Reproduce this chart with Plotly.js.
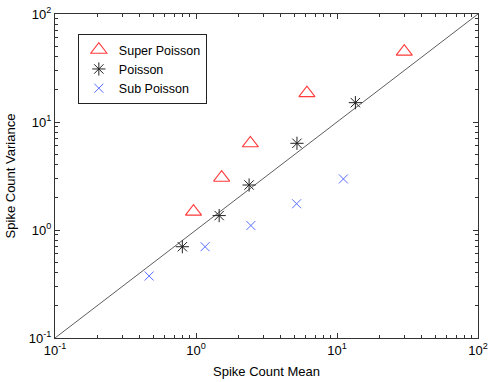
<!DOCTYPE html>
<html>
<head>
<meta charset="utf-8">
<script src="https://cdn.plot.ly/plotly-3.0.1.min.js"></script>
<style>
  html, body { margin: 0; padding: 0; background: #fff; }
  #chart { width: 491px; height: 382px; }
</style>
</head>
<body>
<div id="chart"></div>
<script>
// values (mean vs variance of spike counts)
var superMean = [0.96, 1.52, 2.43, 6.12, 30];
var superVar  = [1.48, 3.05, 6.35, 18.5, 44.8];
var poisMean  = [0.80, 1.46, 2.38, 5.2, 13.5];
var poisVar   = [0.70, 1.36, 2.61, 6.35, 15.1];
var subMean   = [0.465, 1.16, 2.45, 5.17, 11.1];
var subVar    = [0.375, 0.70, 1.10, 1.75, 2.97];
var unityLine = [0.1, 100];   // variance = mean
var majorTicks = [0.1, 1, 10, 100];
var majorText  = ['10<sup>-1</sup>', '10<sup>0</sup>', '10<sup>1</sup>', '10<sup>2</sup>'];

var minorTicks = [];
for (var d = 0; d < 3; d++) {
  for (var k = 2; k <= 9; k++) minorTicks.push(k * Math.pow(10, d - 1));
}

var data = [
  {
    x: unityLine, y: unityLine, mode: 'lines', type: 'scatter',
    line: {color: '#333', width: 0.8}, showlegend: false, hoverinfo: 'skip'
  },
  {
    x: superMean, y: superVar, mode: 'markers', type: 'scatter', name: 'Super Poisson',
    marker: {symbol: 'triangle-up-open', size: 14, color: '#ff3b3b', line: {width: 1.1}}
  },
  {
    x: poisMean, y: poisVar, mode: 'markers', type: 'scatter', name: 'Poisson',
    marker: {symbol: 'asterisk-open', size: 11, color: '#222', line: {width: 1}}
  },
  {
    x: subMean, y: subVar, mode: 'markers', type: 'scatter', name: 'Sub Poisson',
    marker: {symbol: 'x-thin-open', size: 9, color: '#5a6eff', line: {width: 1}}
  }
];

var axisCommon = {
  type: 'log',
  range: [-1, 2],
  tickvals: majorTicks,
  ticktext: majorText,
  ticks: 'inside',
  ticklen: 5,
  tickcolor: '#333',
  showline: true,
  linecolor: '#333',
  linewidth: 1,
  mirror: 'ticks',
  showgrid: false,
  zeroline: false,
  tickfont: {family: 'Liberation Sans, Arial, sans-serif', size: 13, color: '#000'},
  minor: {tickvals: minorTicks, ticks: 'inside', ticklen: 3, tickcolor: '#333', showgrid: false}
};

var layout = {
  width: 491,
  height: 382,
  margin: {l: 55, r: 13, t: 14, b: 44},
  paper_bgcolor: '#fff',
  plot_bgcolor: '#fff',
  font: {family: 'Liberation Sans, Arial, sans-serif', size: 13, color: '#000'},
  xaxis: Object.assign({}, axisCommon, {
    title: {text: 'Spike Count Mean', standoff: 10, font: {size: 13}}
  }),
  yaxis: Object.assign({}, axisCommon, {
    title: {text: 'Spike Count Variance', standoff: 10, font: {size: 13}}
  }),
  legend: {
    x: 0.054, y: 0.938, xanchor: 'left', yanchor: 'top',
    bgcolor: '#fff', bordercolor: '#222', borderwidth: 1,
    font: {size: 12.5}, tracegroupgap: 0, itemwidth: 30
  },
  showlegend: true
};

Plotly.newPlot('chart', data, layout, {displayModeBar: false, staticPlot: true});
</script>
</body>
</html>
